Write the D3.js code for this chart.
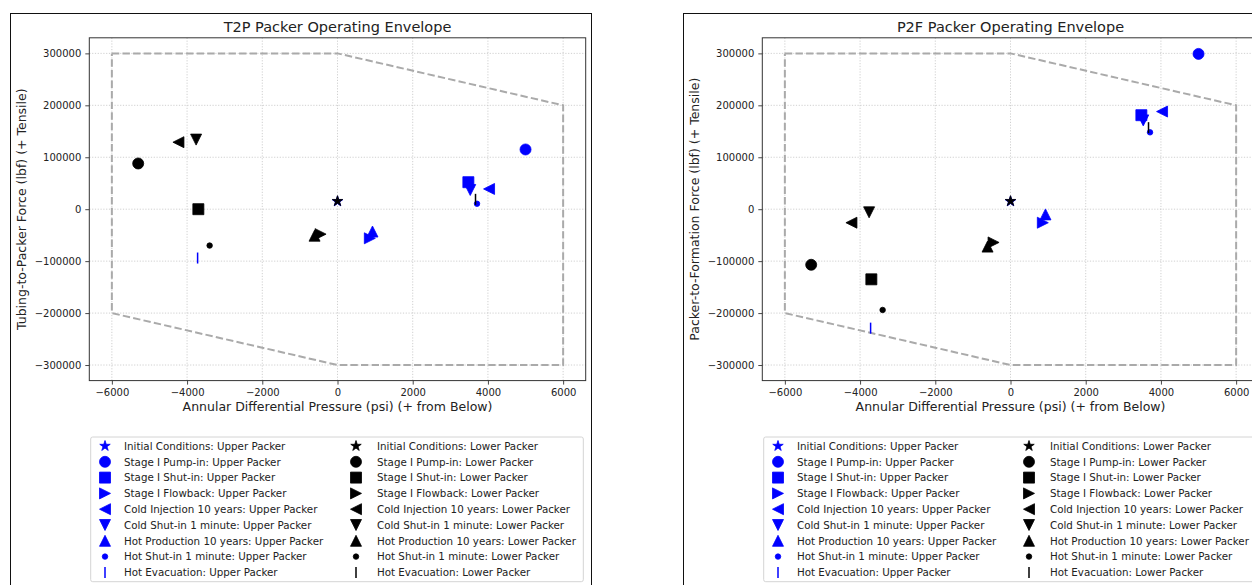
<!DOCTYPE html>
<html lang="en">
	<head>
		<meta charset="utf-8">
		<title>Packer Operating Envelope</title>
		<script type="text/javascript" src="https://cdn.jsdelivr.net/npm/d3@7"></script>
		<style type="text/css">
			body { margin: 0; background: #fff; }
			text { font-family: "DejaVu Sans", sans-serif; fill: #222; }
		</style>
	</head>
	<body>
		<script type="text/javascript">

			//Load cases, in legend order
			var stages = [
				"Initial Conditions",
				"Stage I Pump-in",
				"Stage I Shut-in",
				"Stage I Flowback",
				"Cold Injection 10 years",
				"Cold Shut-in 1 minute",
				"Hot Production 10 years",
				"Hot Shut-in 1 minute",
				"Hot Evacuation"
			];
			var markers = ["star", "circle", "square", "right", "left", "down", "up", "point", "vline"];

			//Annular differential pressure (psi)
			var upperPressure = [0, 5000, 3480, 860, 4030, 3530, 930, 3710, -3720];
			var lowerPressure = [0, -5300, -3700, -450, -4230, -3760, -610, -3400, 3670];

			//Tubing-to-packer force (lbf)
			var t2pUpper = [15000, 115000, 52000, -56000, 39000, 37000, -43000, 10500, -94000];
			var t2pLower = [15500, 88000, 0, -48000, 129000, 134000, -51000, -70000, 19000];

			//Packer-to-formation force (lbf)
			var p2fUpper = [15000, 299000, 181000, -26000, 188000, 171000, -10000, 148000, -229000];
			var p2fLower = [15500, -107000, -135000, -64000, -26000, -6000, -72000, -194000, 157000];

			//Operating envelope
			var envPressure = [-6000, 0, 6000, 6000, 0, -6000, -6000];
			var envForce = [300000, 300000, 200000, -300000, -300000, -200000, 300000];

			var xTicks = [-6000, -4000, -2000, 0, 2000, 4000, 6000];
			var yTicks = [-300000, -200000, -100000, 0, 100000, 200000, 300000];

			//Width and height
			var w = 1252;
			var h = 585;
			var panelShift = 673;
			var ax = { left: 89.3, right: 585.7, top: 37.8, bottom: 380.6 };
			var ms = 11;  //marker size in px

			var svg = d3.select("body")
						.append("svg")
						.attr("width", w)
						.attr("height", h);

			svg.append("rect")
				.attr("width", w)
				.attr("height", h)
				.attr("fill", "#fff");

			//Marker shapes, same idea as matplotlib markers
			function markerPath(type, s) {
				var r = s / 2;
				if (type == "circle") {
					return d3.symbol().type(d3.symbolCircle).size(Math.PI * r * r)();
				}
				if (type == "point") {
					return d3.symbol().type(d3.symbolCircle).size(Math.PI * r * r / 4)();
				}
				if (type == "square") {
					return "M" + (-r) + "," + (-r) + "H" + r + "V" + r + "H" + (-r) + "Z";
				}
				if (type == "up") {
					return "M0," + (-r) + "L" + r + "," + r + "L" + (-r) + "," + r + "Z";
				}
				if (type == "down") {
					return "M0," + r + "L" + r + "," + (-r) + "L" + (-r) + "," + (-r) + "Z";
				}
				if (type == "right") {
					return "M" + r + ",0L" + (-r) + "," + (-r) + "L" + (-r) + "," + r + "Z";
				}
				if (type == "left") {
					return "M" + (-r) + ",0L" + r + "," + (-r) + "L" + r + "," + r + "Z";
				}
				if (type == "star") {
					var pts = [];
					for (var i = 0; i < 10; i++) {
						var rad = i % 2 == 0 ? r : r * 0.381966;
						var ang = Math.PI / 2 - i * Math.PI / 5;
						pts.push([rad * Math.cos(ang), -rad * Math.sin(ang)]);
					}
					return "M" + pts.join("L") + "Z";
				}
				if (type == "vline") {
					return "M0," + (-r) + "V" + r;
				}
			}

			function drawMarker(g, type, color, x, y) {
				var p = g.append("path")
					.attr("d", markerPath(type, ms))
					.attr("transform", "translate(" + x + "," + y + ")");
				if (type == "vline") {
					p.attr("fill", "none").attr("stroke", color).attr("stroke-width", 1.5);
				} else {
					p.attr("fill", color).attr("stroke", color).attr("stroke-width", 0.8);
				}
			}

			function drawPanel(dx, title, yLabel, upperForce, lowerForce) {

				var g = svg.append("g")
					.attr("transform", "translate(" + dx + ",0)");

				//Outer figure frame
				g.append("rect")
					.attr("x", 10.5)
					.attr("y", 13.5)
					.attr("width", 581)
					.attr("height", 620)
					.attr("fill", "none")
					.attr("stroke", "#111")
					.attr("stroke-width", 1);

				var xScale = d3.scaleLinear()
					.domain([-6600, 6600])
					.range([ax.left, ax.right]);

				var yScale = d3.scaleLinear()
					.domain([-330000, 330000])
					.range([ax.bottom, ax.top]);

				//Grid
				g.selectAll(".vgrid")
					.data(xTicks)
					.enter()
					.append("line")
					.attr("x1", function(d) { return xScale(d); })
					.attr("x2", function(d) { return xScale(d); })
					.attr("y1", ax.top)
					.attr("y2", ax.bottom)
					.attr("stroke", "#c4c4c4")
					.attr("stroke-width", 0.8)
					.attr("stroke-dasharray", "1.2,1.6");

				g.selectAll(".hgrid")
					.data(yTicks)
					.enter()
					.append("line")
					.attr("x1", ax.left)
					.attr("x2", ax.right)
					.attr("y1", function(d) { return yScale(d); })
					.attr("y2", function(d) { return yScale(d); })
					.attr("stroke", "#c4c4c4")
					.attr("stroke-width", 0.8)
					.attr("stroke-dasharray", "1.2,1.6");

				//Envelope
				var line = d3.line()
					.x(function(d) { return xScale(d[0]); })
					.y(function(d) { return yScale(d[1]); });

				g.append("path")
					.attr("d", line(d3.zip(envPressure, envForce)))
					.attr("fill", "none")
					.attr("stroke", "#aaaaaa")
					.attr("stroke-width", 2)
					.attr("stroke-dasharray", "7.4,3.2");

				//Points: all upper packer first, then lower packer
				for (var i = 0; i < stages.length; i++) {
					drawMarker(g, markers[i], "#0000ff", xScale(upperPressure[i]), yScale(upperForce[i]));
				}
				for (var i = 0; i < stages.length; i++) {
					drawMarker(g, markers[i], "#000000", xScale(lowerPressure[i]), yScale(lowerForce[i]));
				}

				//Axes
				var xAxis = d3.axisBottom(xScale)
					.tickValues(xTicks)
					.tickSize(4)
					.tickPadding(4)
					.tickFormat(function(d) { return d3.format("d")(d).replace("-", "\u2212"); });

				var yAxis = d3.axisLeft(yScale)
					.tickValues(yTicks)
					.tickSize(4)
					.tickPadding(4)
					.tickFormat(function(d) { return d3.format("d")(d).replace("-", "\u2212"); });

				var gx = g.append("g")
					.attr("transform", "translate(0," + ax.bottom + ")")
					.call(xAxis);
				var gy = g.append("g")
					.attr("transform", "translate(" + ax.left + ",0)")
					.call(yAxis);

				[gx, gy].forEach(function(a) {
					a.select(".domain").remove();
					a.selectAll("line").attr("stroke", "#333").attr("stroke-width", 0.9);
					a.selectAll("text")
						.attr("font-family", "DejaVu Sans")
						.attr("font-size", "10px")
						.attr("fill", "#222");
				});

				g.append("rect")
					.attr("x", ax.left)
					.attr("y", ax.top)
					.attr("width", ax.right - ax.left)
					.attr("height", ax.bottom - ax.top)
					.attr("fill", "none")
					.attr("stroke", "#333")
					.attr("stroke-width", 1);

				//Title and labels
				g.append("text")
					.attr("x", (ax.left + ax.right) / 2)
					.attr("y", 32)
					.attr("text-anchor", "middle")
					.attr("font-size", "14.5px")
					.text(title);

				g.append("text")
					.attr("x", (ax.left + ax.right) / 2)
					.attr("y", 411)
					.attr("text-anchor", "middle")
					.attr("font-size", "12.5px")
					.text("Annular Differential Pressure (psi) (+ from Below)");

				g.append("text")
					.attr("transform", "translate(26," + ((ax.top + ax.bottom) / 2) + ") rotate(-90)")
					.attr("text-anchor", "middle")
					.attr("font-size", "12.5px")
					.text(yLabel);

				//Legend
				var lg = g.append("g");
				lg.append("rect")
					.attr("x", 90.7)
					.attr("y", 437)
					.attr("width", 492.6)
					.attr("height", 144.7)
					.attr("rx", 2)
					.attr("fill", "#fff")
					.attr("stroke", "#d4d4d4")
					.attr("stroke-width", 1);

				var cols = [
					{ mx: 105, tx: 124, color: "#0000ff", suffix: ": Upper Packer" },
					{ mx: 356, tx: 377, color: "#000000", suffix: ": Lower Packer" }
				];
				cols.forEach(function(c) {
					stages.forEach(function(s, i) {
						var yy = 446 + i * 15.8;
						drawMarker(lg, markers[i], c.color, c.mx, yy);
						lg.append("text")
							.attr("x", c.tx)
							.attr("y", yy + 3.7)
							.attr("font-size", "10.3px")
							.text(s + c.suffix);
					});
				});
			}

			drawPanel(0, "T2P Packer Operating Envelope", "Tubing-to-Packer Force (lbf) (+ Tensile)", t2pUpper, t2pLower);
			drawPanel(panelShift, "P2F Packer Operating Envelope", "Packer-to-Formation Force (lbf) (+ Tensile)", p2fUpper, p2fLower);

		</script>
	</body>
</html>
